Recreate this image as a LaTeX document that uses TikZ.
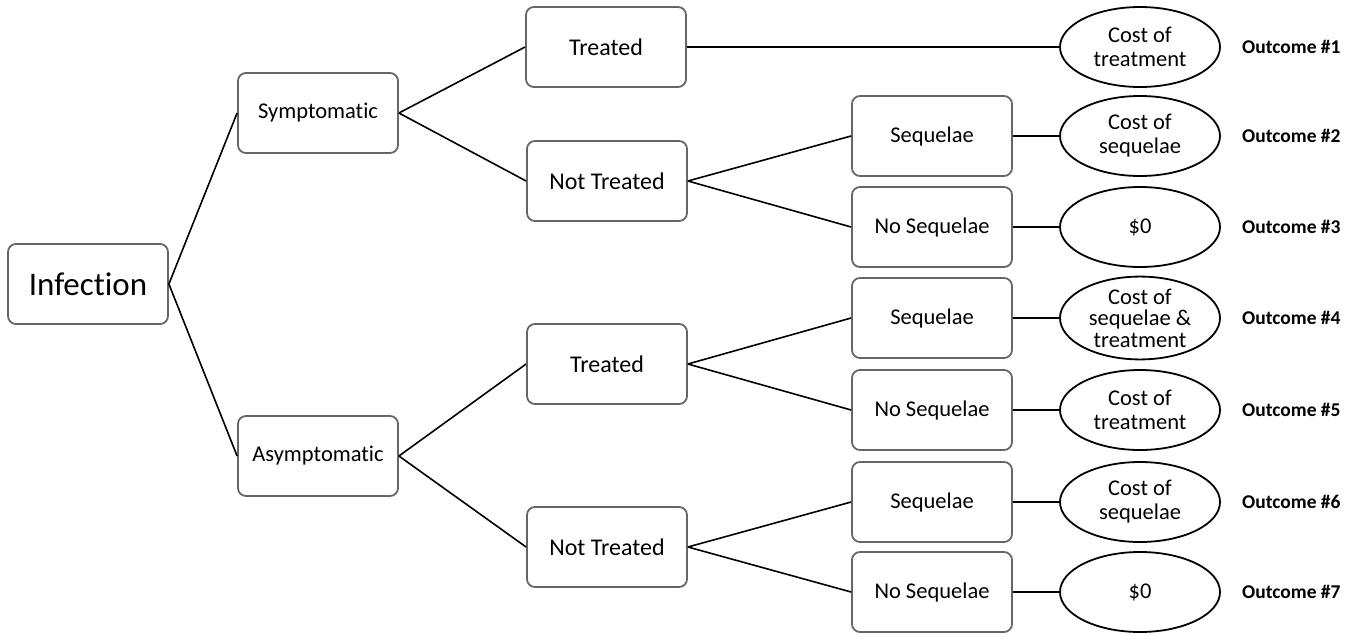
\documentclass[tikz,border=0pt]{standalone}
\usepackage{fontspec}
\setmainfont{Carlito}[Ligatures={NoCommon,NoContextual}]
\usetikzlibrary{shapes.geometric}
\begin{document}
\begin{tikzpicture}[x=1pt,y=-1pt,
  box/.style={draw=black!60,line width=1.8pt,rounded corners=8pt,minimum width=160pt,minimum height=80pt,inner sep=0pt,align=center,font=\fontsize{22.5}{25}\selectfont},
  bigbox/.style={box,font=\fontsize{33}{36}\selectfont},
  midbox/.style={box,font=\fontsize{24}{27}\selectfont},
  oval/.style={draw=black,ellipse,line width=1.8pt,minimum width=160pt,minimum height=80pt,inner sep=0pt,align=center,font=\fontsize{22.5}{24}\selectfont},
  outlbl/.style={font=\fontsize{19.5}{22}\selectfont\bfseries,anchor=west,inner sep=0pt},
  conn/.style={line width=1.6pt,draw=black}]
\useasboundingbox (0,0) rectangle (1361,635);
\node[bigbox] (inf) at (88,284) {Infection};
\node[box] (sym) at (318,113) {Symptomatic};
\node[box] (asym) at (318,456) {Asymptomatic};
\node[midbox] (t1) at (606,47) {Treated};
\node[midbox] (nt1) at (607,181) {Not Treated};
\node[midbox] (t2) at (607,364) {Treated};
\node[midbox] (nt2) at (607,547) {Not Treated};
\node[box] (s2) at (932,136) {Sequelae};
\node[box] (ns3) at (932,227) {No Sequelae};
\node[box] (s4) at (932,318) {Sequelae};
\node[box] (ns5) at (932,410) {No Sequelae};
\node[box] (s6) at (932,502) {Sequelae};
\node[box] (ns7) at (932,592) {No Sequelae};
\node[oval] (e1) at (1140,47) {Cost of\\treatment};
\node[oval] (e2) at (1140,136) {Cost of\\sequelae};
\node[oval] (e3) at (1140,227) {\$0};
\node[oval,font=\fontsize{22.5}{21.5}\selectfont] (e4) at (1140,318) {Cost of\\sequelae \&\\treatment};
\node[oval] (e5) at (1140,410) {Cost of\\treatment};
\node[oval] (e6) at (1140,502) {Cost of\\sequelae};
\node[oval] (e7) at (1140,592) {\$0};
\node[outlbl] (o1) at (1242,47) {Outcome \#1};
\node[outlbl] (o2) at (1242,136) {Outcome \#2};
\node[outlbl] (o3) at (1242,227) {Outcome \#3};
\node[outlbl] (o4) at (1242,318) {Outcome \#4};
\node[outlbl] (o5) at (1242,410) {Outcome \#5};
\node[outlbl] (o6) at (1242,502) {Outcome \#6};
\node[outlbl] (o7) at (1242,592) {Outcome \#7};
\draw[conn] (inf.east) -- (sym.west);
\draw[conn] (inf.east) -- (asym.west);
\draw[conn] (sym.east) -- (t1.west);
\draw[conn] (sym.east) -- (nt1.west);
\draw[conn] (asym.east) -- (t2.west);
\draw[conn] (asym.east) -- (nt2.west);
\draw[conn] (nt1.east) -- (s2.west);
\draw[conn] (nt1.east) -- (ns3.west);
\draw[conn] (t2.east) -- (s4.west);
\draw[conn] (t2.east) -- (ns5.west);
\draw[conn] (nt2.east) -- (s6.west);
\draw[conn] (nt2.east) -- (ns7.west);
\draw[conn] (t1.east) -- (e1.west);
\draw[conn] (s2.east) -- (e2.west);
\draw[conn] (ns3.east) -- (e3.west);
\draw[conn] (s4.east) -- (e4.west);
\draw[conn] (ns5.east) -- (e5.west);
\draw[conn] (s6.east) -- (e6.west);
\draw[conn] (ns7.east) -- (e7.west);
\end{tikzpicture}
\end{document}
